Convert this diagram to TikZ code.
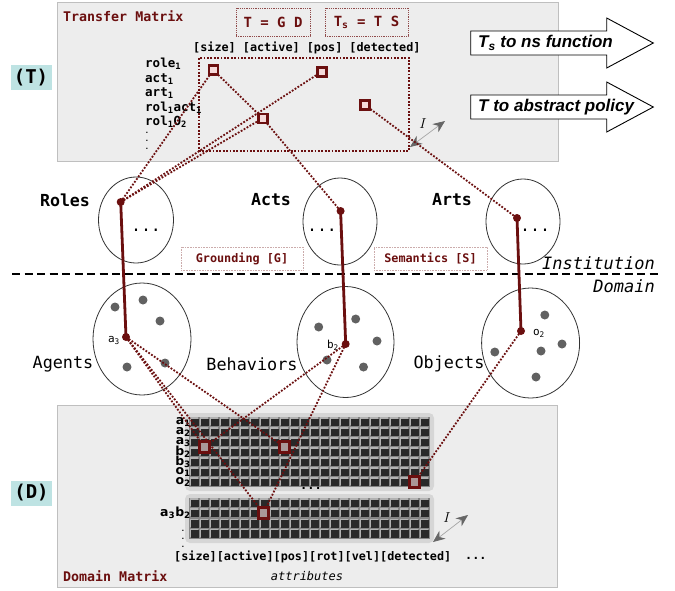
\documentclass[tikz,border=0pt]{standalone}
\usepackage{fontspec}
\setmainfont{DejaVu Sans}
\setmonofont{DejaVu Sans Mono}
\newfontfamily\arrowfont{Liberation Sans}
\usetikzlibrary{shapes.geometric,arrows.meta}
\definecolor{dred}{HTML}{6B0F0F}
\definecolor{cyanbg}{HTML}{BEE3E3}
\definecolor{sqpink}{HTML}{F5D8D8}
\definecolor{sqgray}{HTML}{AA9696}
\newcommand\myfs[1]{\fontsize{#1}{#1}\selectfont}
\tikzset{
  graybox/.style={draw=black!25, fill=black!7, line width=0.8pt, anchor=north west, inner sep=0},
  lbl/.style={fill=cyanbg, inner sep=0, font=\ttfamily\bfseries\myfs{19}, minimum width=41, minimum height=25},
  ttl/.style={font=\ttfamily\bfseries\myfs{13.3}, text=dred, inner sep=0, anchor=west},
  eqbox/.style={draw=dred!75, densely dotted, line width=0.8pt, font=\ttfamily\bfseries\myfs{14}, text=dred, inner sep=0},
  hdr/.style={font=\ttfamily\bfseries\myfs{11.8}, inner sep=0, anchor=west},
  rowl/.style={font=\ttfamily\bfseries\myfs{12.5}, inner sep=0, anchor=west},
  vdot/.style={font=\ttfamily\bfseries\myfs{7}, inner sep=0},
  drow/.style={font=\bfseries\myfs{12.5}, inner sep=0, anchor=east},
  blockarrow/.style={draw=black, fill=white, line width=0.9pt, line join=miter},
  arrtxt/.style={font=\arrowfont\bfseries\itshape\myfs{17}, anchor=west, inner sep=0},
  ell/.style={ellipse, draw=black!80, line width=0.8pt, inner sep=0},
  setb/.style={font=\ttfamily\bfseries\myfs{16.6}, inner sep=0},
  setn/.style={font=\ttfamily\myfs{16.8}, inner sep=0},
  dotsf/.style={font=\ttfamily\myfs{16.6}, inner sep=0},
  gbox/.style={draw=dred!35, densely dotted, line width=0.6pt, text=dred, font=\ttfamily\bfseries\myfs{11.8}, inner sep=0},
  sidelbl/.style={font=\ttfamily\itshape\myfs{17}, anchor=east, inner sep=0},
  gdot/.style={circle, fill=black!62, minimum size=9, inner sep=0},
  rdot/.style={circle, fill=dred, minimum size=8, inner sep=0},
  elem/.style={font=\ttfamily\myfs{11}, inner sep=0},
  lnk/.style={dred, line width=1.8pt, dash pattern=on 1.8pt off 1.6pt},
  thk/.style={dred, line width=2.8pt},
  sqt/.style={draw=dred, fill=sqpink, line width=2.6pt, minimum size=9, inner sep=0},
  sqd/.style={draw=dred, fill=sqgray, line width=2.8pt, minimum size=10.5, inner sep=0},
  iarr/.style={draw=black!35, line width=0.7pt, {Stealth[length=12pt,width=10pt,color=black!60]}-{Stealth[length=12pt,width=10pt,color=black!60]}},
  ilbl/.style={inner sep=0, font=\myfs{14}},
}
\begin{document}
\begin{tikzpicture}[x=1pt,y=-1pt]
\useasboundingbox (0,0) rectangle (675,590);
\fill[white] (0,0) rectangle (675,590);
% gray panels
\node[graybox, minimum width=501, minimum height=159] (tbox) at (56.5,2) {};
\node[graybox, minimum width=500.5, minimum height=182] (dbox) at (56.5,405) {};
% side labels
\node[lbl] (tlab) at (31,77.5) {(T)};
\node[lbl] (dlab) at (31.5,493) {(D)};
% transfer matrix
\node[ttl] (ttitle) at (63,16) {Transfer Matrix};
\node[eqbox, minimum width=74, minimum height=28] (tgd) at (273,22) {T = G D};
\node[eqbox, minimum width=83, minimum height=28] (tts) at (366.5,22) {T\textsubscript{s} = T S};
\node[hdr] (hdrT) at (193,47.5) {[size] [active] [pos] [detected]};
\node[draw=dred, line width=1.8pt, dash pattern=on 1.8pt off 1.6pt, minimum width=210, minimum height=93, anchor=north west, inner sep=0] (tmat) at (198,57) {};
\node[rowl] (r1) at (145,64) {role\textsubscript{1}};
\node[rowl] (r2) at (145,79) {act\textsubscript{1}};
\node[rowl] (r3) at (145,93) {art\textsubscript{1}};
\node[rowl] (r4) at (145,108) {rol\textsubscript{1}act\textsubscript{1}};
\node[rowl] (r5) at (145,122) {rol\textsubscript{1}O\textsubscript{2}};
\node[vdot] (rd1) at (147,133) {.};
\node[vdot] (rd2) at (147,141) {.};
\node[vdot] (rd3) at (147,149) {.};
% block arrows
\draw[blockarrow] (470.7,31) -- (606.7,31) -- (606.7,18) -- (653.3,43) -- (606.7,68) -- (606.7,55) -- (470.7,55) -- cycle;
\node[arrtxt] (a1t) at (478,43) {T\textsubscript{s} to ns function};
\draw[blockarrow] (470.7,95) -- (606.7,95) -- (606.7,82) -- (653.3,107) -- (606.7,132) -- (606.7,119) -- (470.7,119) -- cycle;
\node[arrtxt] (a2t) at (478,107.5) {T to abstract policy};
% I arrow top
\coordinate (ti1) at (410,147);
\coordinate (ti2) at (445,121);
\draw[iarr] (ti1) -- (ti2);
\node[ilbl] (til) at (423,124) {$I$};
% institution ellipses
\node[ell, minimum width=75, minimum height=86] (eroles) at (136,220) {};
\node[ell, minimum width=74, minimum height=87] (eacts) at (340,221.5) {};
\node[ell, minimum width=74, minimum height=85] (earts) at (523,221.5) {};
\node[dotsf] (rdots) at (146,230) {...};
\node[dotsf] (adots) at (322,230) {...};
\node[dotsf] (ardots) at (535,230) {...};
\node[setb] (lroles) at (65,200) {Roles};
\node[setb] (lacts) at (271,200) {Acts};
\node[setb] (larts) at (452,200) {Arts};
\node[gbox, minimum width=122, minimum height=23] (gr) at (242,258.5) {Grounding [G]};
\node[gbox, minimum width=113, minimum height=23] (se) at (430.5,258.5) {Semantics [S]};
% separator
\coordinate (dl1) at (12,274);
\coordinate (dl2) at (658,274);
\draw[line width=2.6pt, dash pattern=on 8pt off 4.5pt] (dl1) -- (dl2);
\node[sidelbl] (inst) at (655,263) {Institution};
\node[sidelbl] (dom) at (655,286) {Domain};
% domain ellipses
\node[ell, minimum width=98, minimum height=112] (eagents) at (142,339) {};
\node[ell, minimum width=97, minimum height=111] (ebeh) at (345.5,342) {};
\node[ell, minimum width=98, minimum height=110] (eobj) at (530.6,343) {};
\node[setn] (lagents) at (63,364) {Agents};
\node[setn] (lbeh) at (252,364) {Behaviors};
\node[setn] (lobj) at (449,364) {Objects};
\node[gdot] (g1) at (115,307) {};
\node[gdot] (g2) at (143,300) {};
\node[gdot] (g3) at (160,321) {};
\node[gdot] (g4) at (127,367) {};
\node[gdot] (g5) at (165,363) {};
\node[gdot] (g6) at (318.7,327) {};
\node[gdot] (g7) at (355.7,319) {};
\node[gdot] (g8) at (377,341) {};
\node[gdot] (g9) at (327,360) {};
\node[gdot] (g10) at (363.5,367) {};
\node[gdot] (g11) at (544.8,315) {};
\node[gdot] (g12) at (562,344) {};
\node[gdot] (g13) at (541,351) {};
\node[gdot] (g14) at (494.8,352) {};
\node[gdot] (g15) at (536,377) {};
\node[elem] (la3) at (114,340) {a\textsubscript{3}};
\node[elem] (lb2) at (333,345) {b\textsubscript{2}};
\node[elem] (lo2) at (539,333) {o\textsubscript{2}};
% domain matrices
\fill[black!16, rounded corners=5pt] (185,413) rectangle (434,491);
\fill[black!48] (189,417) rectangle (430,487);
\fill[black!16, rounded corners=5pt] (185,494) rectangle (434,543);
\fill[black!48] (189,498) rectangle (430,539);
\foreach \c in {0,...,23}{
  \foreach \r in {0,...,6}{
    \fill[black!30] ({189.5+10*\c},{417+10*\r}) rectangle ++(8,8);
    \fill[black!84] ({191+10*\c},{418.5+10*\r}) rectangle ++(7.5,7.5);
  }
  \foreach \r in {0,...,3}{
    \fill[black!30] ({189.5+10*\c},{498+10.3*\r}) rectangle ++(8,8);
    \fill[black!84] ({191+10*\c},{499.5+10.3*\r}) rectangle ++(7.5,7.5);
  }
}
\node[drow] (da1) at (191,422) {a\textsubscript{1}};
\node[drow] (da2) at (191,432) {a\textsubscript{2}};
\node[drow] (da3) at (191,442) {a\textsubscript{3}};
\node[drow] (db2) at (191,452) {b\textsubscript{2}};
\node[drow] (db3) at (191,462) {b\textsubscript{3}};
\node[drow] (do1) at (191,472) {o\textsubscript{1}};
\node[drow] (do2) at (191,482) {o\textsubscript{2}};
\node[drow] (dab) at (191,513) {a\textsubscript{3}b\textsubscript{2}};
\node[vdot] (dd1) at (183,531) {.};
\node[vdot] (dd2) at (183,539) {.};
\node[vdot] (dd3) at (183,547) {.};
\node[dotsf, font=\ttfamily\bfseries\myfs{12}] (mdots) at (311,488) {...};
\node[hdr] (hdrD) at (174,557) {[size][active][pos][rot][vel][detected]};
\node[hdr] (hdrD2) at (465,558) {...};
\node[ttl] (dtitle) at (63,576) {Domain Matrix};
\node[inner sep=0, font=\ttfamily\itshape\myfs{12}] (attr) at (307,576) {attributes};
\coordinate (di1) at (433,542);
\coordinate (di2) at (468,515);
\draw[iarr] (di1) -- (di2);
\node[ilbl] (dil) at (447,518) {$I$};
% anchor coordinates
\coordinate (s1) at (213.3,70);
\coordinate (s2) at (321.7,71.7);
\coordinate (s3) at (262.7,118.3);
\coordinate (s4) at (365,105);
\coordinate (d1) at (204.5,447);
\coordinate (d2) at (284.5,447);
\coordinate (d3) at (414.5,482);
\coordinate (d4) at (263.5,513);
\coordinate (pr) at (120.7,202);
\coordinate (pa) at (340.6,211);
\coordinate (pt) at (517,218);
\coordinate (qa) at (126,337);
\coordinate (qb) at (345.7,344);
\coordinate (qo) at (521,331);
% links
\draw[lnk] (pr) -- (s1);
\draw[lnk] (pr) -- (s2);
\draw[lnk] (pr) -- (s3);
\draw[lnk] (s1) -- (s3);
\draw[lnk] (s3) -- (pa);
\draw[lnk] (s4) -- (pt);
\draw[lnk] (qa) -- (d1);
\draw[lnk] (qa) -- (d4);
\draw[lnk] (qa) -- (d2);
\draw[lnk] (qb) -- (d1);
\draw[lnk] (qb) -- (d4);
\draw[lnk] (qo) -- (d3);
\draw[thk] (pr) -- (qa);
\draw[thk] (pa) -- (qb);
\draw[thk] (pt) -- (qo);
% dots and squares
\node[rdot] (nr) at (pr) {};
\node[rdot] (na) at (pa) {};
\node[rdot] (nt) at (pt) {};
\node[rdot] (ma) at (qa) {};
\node[rdot] (mb) at (qb) {};
\node[rdot] (mo) at (qo) {};
\node[sqt] (ns1) at (s1) {};
\node[sqt] (ns2) at (s2) {};
\node[sqt] (ns3) at (s3) {};
\node[sqt] (ns4) at (s4) {};
\node[sqd] (nd1) at (d1) {};
\node[sqd] (nd2) at (d2) {};
\node[sqd] (nd3) at (d3) {};
\node[sqd] (nd4) at (d4) {};
\end{tikzpicture}
\end{document}
